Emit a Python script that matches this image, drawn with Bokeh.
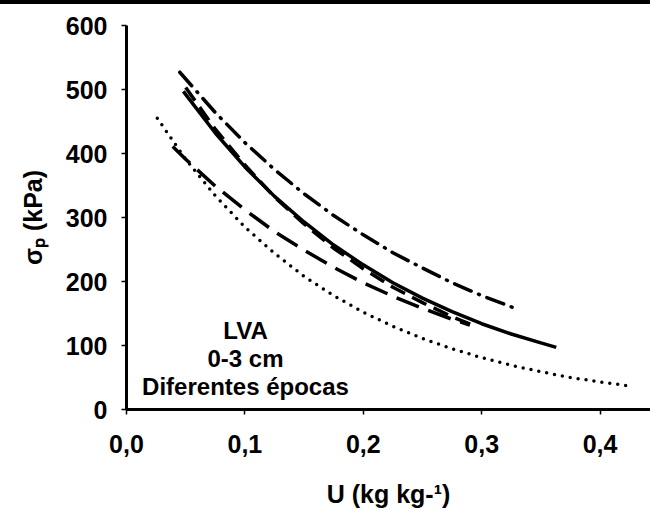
from bokeh.plotting import figure
from bokeh.models import FixedTicker, Label, Div, Range1d
from bokeh.layouts import column
from bokeh.embed import file_html
from bokeh.resources import INLINE

# ---- data ----
u_solid = [0.048, 0.075, 0.100, 0.125, 0.150, 0.175, 0.200, 0.225, 0.250, 0.275, 0.300, 0.325, 0.350, 0.363]
s_solid = [497, 432, 379, 333, 293, 257, 226, 198, 174, 153, 134, 118, 104, 97]

u_dot = [0.026, 0.050, 0.075, 0.100, 0.125, 0.150, 0.175, 0.200, 0.225, 0.250, 0.275, 0.300, 0.325, 0.350, 0.375, 0.400, 0.424]
s_dot = [455, 391, 334, 285, 244, 208, 178, 152, 130, 111, 95, 81, 69, 59, 50, 43, 37]

u_dashdot = [0.045, 0.075, 0.100, 0.125, 0.150, 0.175, 0.200, 0.225, 0.250, 0.275, 0.300, 0.327]
s_dashdot = [527, 464, 417, 375, 337, 303, 273, 245, 221, 198, 178, 159]

u_longdash = [0.039, 0.050, 0.075, 0.100, 0.125, 0.150, 0.175, 0.200, 0.225, 0.250, 0.275, 0.290]
s_longdash = [411, 391, 349, 312, 278, 249, 222, 198, 177, 158, 141, 132]

u_meddash = [0.050, 0.075, 0.100, 0.125, 0.150, 0.175, 0.200, 0.225, 0.250, 0.275, 0.295]
s_meddash = [503, 438, 382, 332, 290, 252, 220, 191, 167, 145, 130]

x_ticks = [0.0, 0.1, 0.2, 0.3, 0.4]
x_tick_labels = ["0,0", "0,1", "0,2", "0,3", "0,4"]
y_ticks = [0, 100, 200, 300, 400, 500, 600]

x_title = "U (kg kg-¹)"
y_title = "σₚ (kPa)"
annot_lines = ["LVA", "0-3 cm", "Diferentes épocas"]

FONT = "Liberation Sans"

p = figure(width=650, height=506, output_backend="svg", toolbar_location=None,
           x_range=Range1d(0, 0.4426), y_range=Range1d(0, 600),
           min_border_left=126, min_border_right=0, min_border_top=21, min_border_bottom=100)

p.outline_line_color = None
p.xgrid.visible = False
p.ygrid.visible = False
p.background_fill_color = "white"
p.border_fill_color = "white"

for ax in (p.xaxis, p.yaxis):
    ax.axis_line_width = 3
    ax.axis_line_color = "black"
    ax.major_tick_in = 0
    ax.major_tick_out = 5
    ax.major_tick_line_width = 1.5
    ax.minor_tick_line_color = None
    ax.major_label_text_font = FONT
    ax.major_label_text_font_style = "bold"
    ax.major_label_text_font_size = "25px"
    ax.major_label_text_color = "black"
    ax.axis_label_text_font = FONT
    ax.axis_label_text_font_style = "bold"
    ax.axis_label_text_font_size = "25px"
    ax.axis_label_text_color = "black"

p.xaxis.ticker = FixedTicker(ticks=x_ticks)
p.xaxis.major_label_overrides = {t: l for t, l in zip(x_ticks, x_tick_labels)}
p.yaxis.ticker = FixedTicker(ticks=y_ticks)
p.xaxis.major_label_standoff = 20
p.yaxis.major_label_standoff = 14
p.xaxis.axis_label = x_title
p.xaxis.axis_label_standoff = 24
p.yaxis.axis_label = y_title
p.yaxis.axis_label_standoff = 16

lw = 3.5
p.line(u_solid, s_solid, line_color="black", line_width=lw)
p.line(u_dot, s_dot, line_color="black", line_width=lw, line_dash="0 8", line_cap="round")
p.line(u_dashdot, s_dashdot, line_color="black", line_width=lw, line_dash="18 8 1 8", line_cap="round")
p.line(u_longdash, s_longdash, line_color="black", line_width=lw, line_dash="24 10")
p.line(u_meddash, s_meddash, line_color="black", line_width=lw, line_dash="16 8")

def ux(px):
    return (px - 126) / 1184.0

def uy(py):
    return (410 - py) / 0.64

for txt, yy in zip(annot_lines, [331, 359, 387]):
    p.add_layout(Label(x=ux(245), y=uy(yy), text=txt, text_align="center", text_baseline="middle",
                       text_font=FONT, text_font_style="bold", text_font_size="24px",
                       text_color="black"))

bar = Div(width=650, height=4, styles={"background-color": "black"}, margin=(0, 0, 0, 0))
layout = column(bar, p, spacing=0)

open("out.html", "w").write(file_html(layout, INLINE))
